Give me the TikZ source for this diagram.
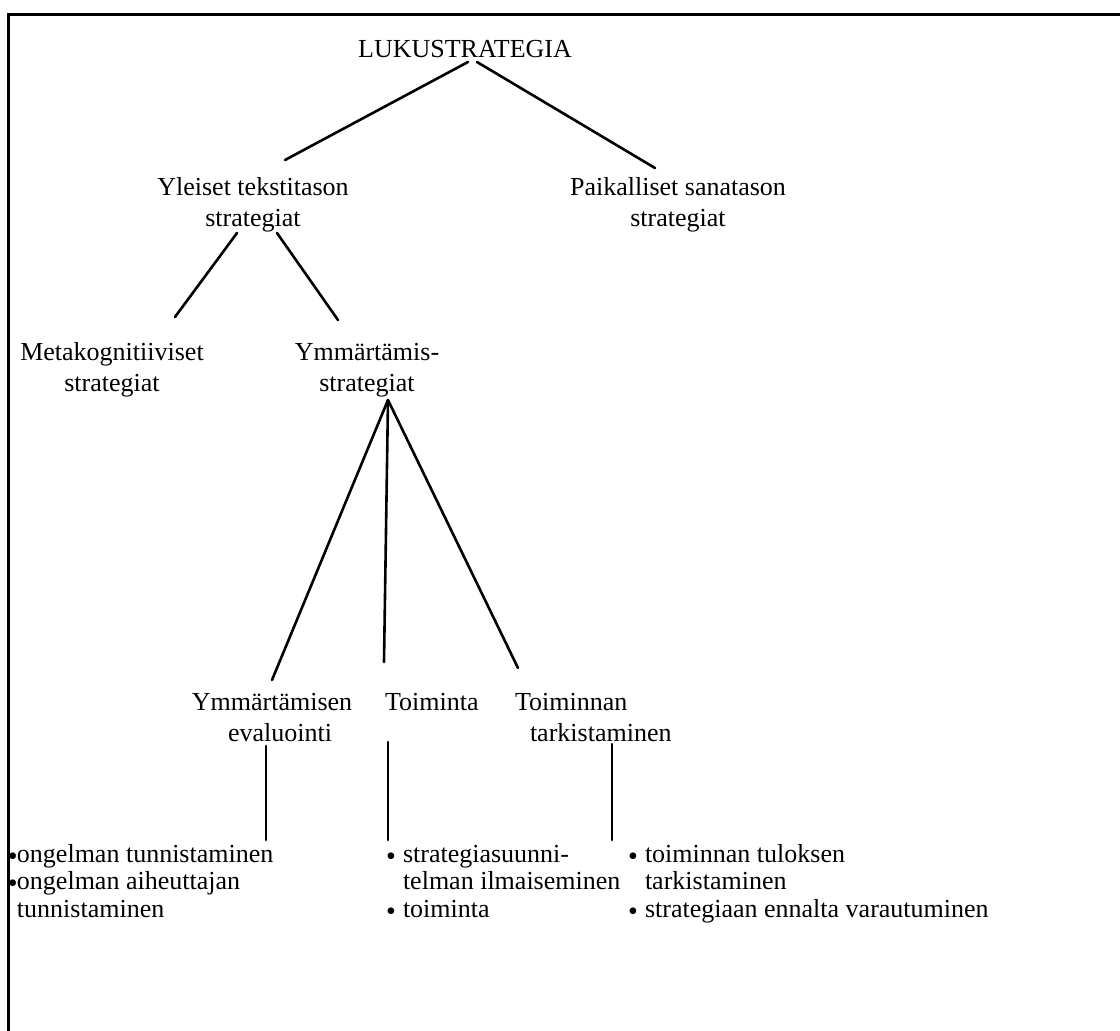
\documentclass[tikz,border=0pt]{standalone}
\usepackage{fontspec}
\setmainfont{Liberation Serif}
\usetikzlibrary{calc}
\newcommand{\blA}{\makebox[9pt][l]{\hspace*{0pt}\raisebox{-3pt}{\fontsize{28}{28}\selectfont •}}}
\newcommand{\blB}{\makebox[17pt][l]{\raisebox{-3pt}{\fontsize{28}{28}\selectfont •}}}
\begin{document}
\begin{tikzpicture}[x=1pt,y=-1pt,
  lab/.style={inner sep=0pt, outer sep=0pt, align=center, font=\fontsize{26}{31}\selectfont},
  lst/.style={inner sep=0pt, outer sep=0pt, align=left, font=\fontsize{26}{27.5}\selectfont},
  conn/.style={line width=2.6pt, line cap=round},
  frame/.style={line width=3pt}]
\useasboundingbox (0,0) rectangle (1120,1031);
\draw[frame] (1120,14) -- (8,14) -- (8,1031);

\node[lab, anchor=base] (root) at (465,57) {LUKUSTRATEGIA};
\node[lab, anchor=base] (yleiset) at (253,226) {Yleiset tekstitason\\strategiat};
\node[lab, anchor=base] (paik) at (678,226) {Paikalliset sanatason\\strategiat};
\node[lab, anchor=base] (meta) at (112,391) {Metakognitiiviset\\strategiat};
\node[lab, anchor=base] (ymm) at (367,391) {Ymmärtämis-\\strategiat};
\node[lab, anchor=base] (yev) at (272,741) {Ymmärtämisen\\\hspace*{16pt}evaluointi};
\node[lab, anchor=base west] (toim) at (385,710) {Toiminta};
\node[lab, align=left, anchor=base west] (ttark) at (515,741) {Toiminnan\\\hspace*{15pt}tarkistaminen};

\node[lst, anchor=base west] (b1) at (8,917) {\blA ongelman tunnistaminen\\\blA ongelman aiheuttajan\\\hspace*{9pt}tunnistaminen};
\node[lst, anchor=base west] (b2) at (386,917) {\blB strategiasuunni-\\\hspace*{17pt}telman ilmaiseminen\\\blB toiminta};
\node[lst, anchor=base west] (b3) at (628,917) {\blB toiminnan tuloksen\\\hspace*{17pt}tarkistaminen\\\blB strategiaan ennalta varautuminen};

\draw[conn] ($(root.base)+(3,5)$) -- ($(yleiset.base)+(32,-66)$);
\draw[conn] ($(root.base)+(12,5)$) -- ($(paik.base)+(-23,-58)$);
\draw[conn] ($(yleiset.base)+(-16,7)$) -- ($(meta.base)+(63,-74)$);
\draw[conn] ($(yleiset.base)+(24,7)$) -- ($(ymm.base)+(-29,-71)$);
\draw[conn] ($(ymm.base)+(21,9)$) -- ($(yev.base)+(0,-61)$);
\draw[conn] ($(ymm.base)+(21,9)$) -- ($(toim.base west)+(-1,-48)$);
\draw[conn] ($(ymm.base)+(21,9)$) -- ($(ttark.base west)+(3,-73)$);
\draw[conn] ($(yev.base)+(-6,5)$) -- ($(b1.base west)+(258,-77)$);
\draw[conn] ($(toim.base west)+(3,32)$) -- ($(b2.base west)+(2,-77)$);
\draw[conn] ($(ttark.base west)+(97,3)$) -- ($(b3.base west)+(-16,-77)$);
\end{tikzpicture}
\end{document}
